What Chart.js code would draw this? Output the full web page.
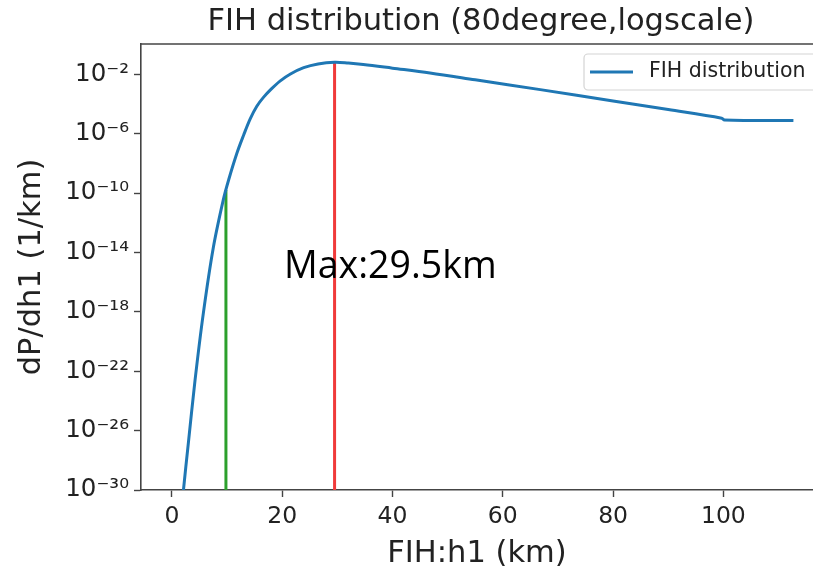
<!DOCTYPE html>
<html>
<head>
<meta charset="utf-8">
<script src="https://cdn.jsdelivr.net/npm/chart.js@4.4.1/dist/chart.umd.min.js"></script>
<style>
  html, body { margin: 0; padding: 0; background: #fff; }
  #wrap { width: 813px; height: 572px; }
</style>
</head>
<body>
<div id="wrap"><canvas id="fihChart" width="813" height="572"></canvas></div>
<script>
// FIH distribution curve
const fihX = [1.9, 2.1, 3.0, 4.2, 5.7, 7.5, 9.3, 10.3, 11.8, 13.0, 14.2, 15.4, 16.6, 18.0, 19.6, 21.5, 23.9, 26.5, 29.5,
  32, 34.7, 40, 46.8, 55, 66.8, 80, 90, 99.7, 100.2, 112.7];
const fihY = [1e-31, 1e-30, 1.6e-27, 2.5e-23, 7.9e-19, 2.0e-14, 3.2e-11, 7.9e-10, 5.0e-8, 7.9e-7, 1.0e-5, 7.1e-5, 2.8e-4,
  1.0e-3, 3.5e-3, 1.05e-2, 2.8e-2, 5.0e-2, 6.5e-2,
  5.75e-2, 4.6e-2, 2.6e-2, 1.23e-2, 4.3e-3, 9.3e-4, 1.6e-4, 4.2e-5, 1.1e-5, 8.5e-6, 7.6e-6];

// vertical markers
const markerX = [9.8, 29.5];
const markerTop = [1.6e-10, 6.5e-2];
const markerColors = ['#2ca02c', '#f03a3a'];

const xTicks = [0, 20, 40, 60, 80, 100];
const yTickExps = [-2, -6, -10, -14, -18, -22, -26, -30];

const supMap = { '-': '\u207B', '0': '\u2070', '1': '\u00B9', '2': '\u00B2', '3': '\u00B3', '4': '\u2074',
  '5': '\u2075', '6': '\u2076', '7': '\u2077', '8': '\u2078', '9': '\u2079' };
function sup(n) {
  return String(n).split('').map(c => supMap[c] || c).join('');
}

const font = "'DejaVu Sans', sans-serif";
const textColor = '#222';

const fihData = fihX.map((x, i) => ({ x: x, y: fihY[i] }));

const markerSets = markerX.map((x, i) => ({
  label: 'marker' + i,
  data: [{ x: x, y: 1e-30 }, { x: x, y: markerTop[i] }],
  borderColor: markerColors[i],
  borderWidth: 3,
  pointRadius: 0,
  fill: false
}));

const extras = {
  id: 'extras',
  afterDatasetsDraw(chart) {
    const ctx = chart.ctx;
    const area = chart.chartArea;
    ctx.save();
    // top spine
    ctx.strokeStyle = '#444';
    ctx.lineWidth = 1.6;
    ctx.beginPath();
    ctx.moveTo(area.left, area.top);
    ctx.lineTo(area.right, area.top);
    ctx.stroke();

    // legend box
    const lx = 584, ly = 54, lw = 250, lh = 36;
    ctx.fillStyle = 'rgba(255,255,255,0.85)';
    ctx.strokeStyle = '#d4d4d4';
    ctx.lineWidth = 1.2;
    ctx.beginPath();
    ctx.roundRect(lx, ly, lw, lh, 4);
    ctx.fill();
    ctx.stroke();
    ctx.strokeStyle = '#1f77b4';
    ctx.lineWidth = 3;
    ctx.beginPath();
    ctx.moveTo(590, 72);
    ctx.lineTo(633, 72);
    ctx.stroke();
    ctx.fillStyle = textColor;
    ctx.font = "20.5px " + font;
    ctx.textBaseline = 'middle';
    ctx.textAlign = 'left';
    ctx.fillText('FIH distribution', 649, 72);

    // title
    ctx.font = "30.5px " + font;
    ctx.textAlign = 'center';
    ctx.fillText('FIH distribution (80degree,logscale)', 481, 22);

    // annotation
    ctx.fillStyle = '#000';
    ctx.font = "37.5px 'Open Sans', sans-serif";
    ctx.textAlign = 'left';
    ctx.textBaseline = 'alphabetic';
    ctx.fillText('Max:29.5km', 284, 278);
    ctx.restore();
  }
};

new Chart(document.getElementById('fihChart'), {
  type: 'line',
  data: {
    datasets: [{
      label: 'FIH distribution',
      data: fihData,
      borderColor: '#1f77b4',
      borderWidth: 3,
      pointRadius: 0,
      tension: 0.35,
      fill: false
    }].concat(markerSets)
  },
  options: {
    responsive: false,
    animation: false,
    layout: { padding: { top: 44, right: 0, left: 0, bottom: 0 } },
    plugins: {
      legend: { display: false },
      title: { display: false },
      tooltip: { enabled: false }
    },
    scales: {
      x: {
        type: 'linear',
        min: -5.6,
        max: 116.25,
        afterBuildTicks: (scale) => { scale.ticks = xTicks.map(v => ({ value: v })); },
        afterFit: (scale) => { scale.height = 82; },
        grid: { drawOnChartArea: false, drawTicks: true, tickLength: 7, tickColor: '#444', tickWidth: 1.4 },
        border: { display: true, color: '#444', width: 1.6 },
        ticks: { color: textColor, font: { family: font, size: 23.5 }, padding: 6, maxRotation: 0 },
        title: { display: true, text: 'FIH:h1 (km)', color: textColor, font: { family: font, size: 30.5 }, padding: { top: 0, bottom: 0 } }
      },
      y: {
        type: 'logarithmic',
        min: 1e-30,
        max: 1.1,
        afterBuildTicks: (scale) => { scale.ticks = yTickExps.map(e => ({ value: Math.pow(10, e) })); },
        afterFit: (scale) => { scale.width = 141; },
        grid: { drawOnChartArea: false, drawTicks: true, tickLength: 7, tickColor: '#444', tickWidth: 1.4 },
        border: { display: true, color: '#444', width: 1.6 },
        ticks: {
          color: textColor,
          font: { family: font, size: 24.5 },
          padding: 5,
          callback: (v) => '10' + sup(Math.round(Math.log10(v)))
        },
        title: { display: true, text: 'dP/dh1 (1/km)', color: textColor, font: { family: font, size: 30.5 }, padding: { top: 14, bottom: 0 } }
      }
    }
  },
  plugins: [extras]
});
</script>
</body>
</html>
